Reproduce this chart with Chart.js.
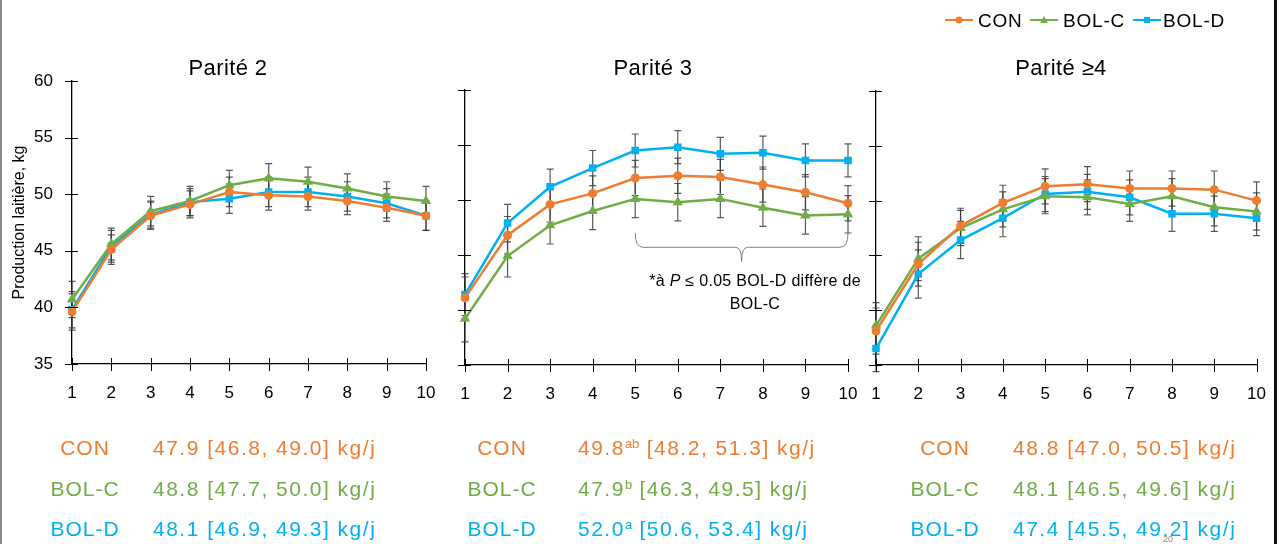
<!DOCTYPE html>
<html>
<head>
<meta charset="utf-8">
<script src="https://cdn.jsdelivr.net/npm/chart.js@4.4.1/dist/chart.umd.min.js"></script>
<style>
  body { margin: 0; background: #fff; }
  #page { position: relative; width: 1285px; height: 544px; overflow: hidden; font-family: "Liberation Sans", Arial, sans-serif; }
  canvas { position: absolute; left: 0; top: 0; }
  .txt { position: absolute; white-space: nowrap; line-height: 1; }
  .title { font-size: 22px; color: #000; transform: translate(-50%, -50%); letter-spacing: 0.4px; }
  .lab { font-size: 21px; transform: translate(-50%, -50%); letter-spacing: 1px; }
  .val { font-size: 21px; transform: translateY(-50%); letter-spacing: 1.5px; }
  .val sup { font-size: 13px; vertical-align: 7px; letter-spacing: 0; }
  .leg { font-size: 19px; color: #000; transform: translateY(-50%); letter-spacing: 0.8px; }
  .con { color: #ED7D31; } .bolc { color: #70AD47; } .bold { color: #00B0F0; }
</style>
</head>
<body>
<div id="page">
  <canvas id="c1" width="1285" height="544"></canvas>
  <canvas id="c2" width="1285" height="544"></canvas>
  <canvas id="c3" width="1285" height="544"></canvas>

  <div class="txt title" style="left:228px;top:68px">Parité 2</div>
  <div class="txt title" style="left:653px;top:68px">Parité 3</div>
  <div class="txt title" style="left:1061px;top:68px">Parité ≥4</div>

  <div class="txt" style="left:755px;top:269px;transform:translateX(-50%);font-size:16px;line-height:23px;text-align:center;color:#000;letter-spacing:0.3px">*à <i>P</i> ≤ 0.05 BOL-D diffère de<br>BOL-C</div>

  <svg style="position:absolute;left:945px;top:12px" width="28" height="16"><line x1="0" y1="8" x2="28" y2="8" stroke="#ED7D31" stroke-width="2"/><circle cx="14" cy="8" r="3.5" fill="#ED7D31"/></svg>
  <div class="txt leg" style="left:978px;top:20px">CON</div>
  <svg style="position:absolute;left:1030px;top:12px" width="28" height="16"><line x1="0" y1="8" x2="28" y2="8" stroke="#70AD47" stroke-width="2"/><polygon points="14,4 18,11 10,11" fill="#70AD47"/></svg>
  <div class="txt leg" style="left:1063px;top:20px">BOL-C</div>
  <svg style="position:absolute;left:1133px;top:12px" width="28" height="16"><line x1="0" y1="8" x2="28" y2="8" stroke="#00B0F0" stroke-width="2"/><rect x="11" y="5" width="6" height="6" fill="#00B0F0"/></svg>
  <div class="txt leg" style="left:1163px;top:20px">BOL-D</div>

  <div class="txt lab con" style="left:85px;top:447px">CON</div>
  <div class="txt val con" style="left:153px;top:447px">47.9 [46.8, 49.0] kg/j</div>
  <div class="txt lab bolc" style="left:85px;top:488px">BOL-C</div>
  <div class="txt val bolc" style="left:153px;top:488px">48.8 [47.7, 50.0] kg/j</div>
  <div class="txt lab bold" style="left:85px;top:528px">BOL-D</div>
  <div class="txt val bold" style="left:153px;top:528px">48.1 [46.9, 49.3] kg/j</div>

  <div class="txt lab con" style="left:502px;top:447px">CON</div>
  <div class="txt val con" style="left:578px;top:447px">49.8<sup>ab</sup> [48.2, 51.3] kg/j</div>
  <div class="txt lab bolc" style="left:502px;top:488px">BOL-C</div>
  <div class="txt val bolc" style="left:578px;top:488px">47.9<sup>b</sup> [46.3, 49.5] kg/j</div>
  <div class="txt lab bold" style="left:502px;top:528px">BOL-D</div>
  <div class="txt val bold" style="left:578px;top:528px">52.0<sup>a</sup> [50.6, 53.4] kg/j</div>

  <div class="txt lab con" style="left:945px;top:447px">CON</div>
  <div class="txt val con" style="left:1013px;top:447px">48.8 [47.0, 50.5] kg/j</div>
  <div class="txt lab bolc" style="left:945px;top:488px">BOL-C</div>
  <div class="txt val bolc" style="left:1013px;top:488px">48.1 [46.5, 49.6] kg/j</div>
  <div class="txt lab bold" style="left:945px;top:528px">BOL-D</div>
  <div class="txt val bold" style="left:1013px;top:528px">47.4 [45.5, 49.2] kg/j</div>

  <div class="txt" style="left:1163px;top:535px;font-size:9px;color:#888">20</div>
  <div style="position:absolute;left:0;top:0;width:2px;height:544px;background:#8a8a8a"></div>
  <div style="position:absolute;left:1274px;top:0;width:3px;height:544px;background:#111"></div>
</div>

<script>
const weeks = ['1', '2', '3', '4', '5', '6', '7', '8', '9', '10'];
const yTicks = [35, 40, 45, 50, 55, 60];

// Parité 2
const con2 = [39.6, 45.1, 48.1, 49.1, 50.2, 49.9, 49.8, 49.4, 48.8, 48.1];
const bolc2 = [40.7, 45.6, 48.5, 49.4, 50.8, 51.4, 51.1, 50.5, 49.8, 49.4];
const bold2 = [39.8, 45.4, 48.2, 49.3, 49.6, 50.2, 50.2, 49.8, 49.2, 48.1];
const conErr2 = [1.6, 1.3, 1.2, 1.2, 1.3, 1.3, 1.2, 1.2, 1.2, 1.3];
const bolcErr2 = [1.6, 1.4, 1.3, 1.3, 1.3, 1.3, 1.3, 1.3, 1.3, 1.3];
const boldErr2 = [1.6, 1.4, 1.2, 1.2, 1.3, 1.3, 1.3, 1.3, 1.3, 1.3];

// Parité 3
const con3 = [41.1, 46.8, 49.6, 50.6, 52.0, 52.2, 52.1, 51.4, 50.7, 49.7];
const bolc3 = [39.2, 44.9, 47.7, 49.0, 50.1, 49.8, 50.1, 49.3, 48.6, 48.7];
const bold3 = [41.4, 47.9, 51.2, 52.9, 54.5, 54.8, 54.2, 54.3, 53.6, 53.6];
const conErr3 = [1.9, 1.7, 1.6, 1.6, 1.6, 1.6, 1.6, 1.6, 1.6, 1.6];
const bolcErr3 = [2.1, 1.9, 1.7, 1.7, 1.7, 1.7, 1.7, 1.7, 1.7, 1.7];
const boldErr3 = [1.9, 1.7, 1.6, 1.6, 1.5, 1.5, 1.5, 1.5, 1.5, 1.5];

// Parité >=4
const con4 = [38.1, 44.2, 47.7, 49.8, 51.3, 51.5, 51.1, 51.1, 51.0, 50.0];
const bolc4 = [38.6, 44.7, 47.5, 49.2, 50.4, 50.3, 49.7, 50.4, 49.4, 49.0];
const bold4 = [36.5, 43.3, 46.4, 48.4, 50.6, 50.8, 50.3, 48.8, 48.8, 48.4];
const conErr4 = [2.1, 2.0, 1.6, 1.6, 1.6, 1.6, 1.6, 1.6, 1.7, 1.7];
const bolcErr4 = [2.1, 2.0, 1.6, 1.6, 1.6, 1.6, 1.6, 1.6, 1.7, 1.7];
const boldErr4 = [2.1, 2.2, 1.7, 1.7, 1.6, 1.6, 1.6, 1.6, 1.6, 1.6];

const CON_COLOR = '#ED7D31';
const BOLC_COLOR = '#70AD47';
const BOLD_COLOR = '#00B0F0';
const FONT = 'Liberation Sans, Arial, sans-serif';

// barres d'erreur, petites graduations croisées et accolade
const extras = {
  id: 'extras',
  beforeDatasetsDraw(chart) {
    const ctx = chart.ctx;
    const x = chart.scales.x, y = chart.scales.y;
    ctx.save();
    ctx.strokeStyle = 'rgba(60,60,60,0.85)';
    ctx.lineWidth = 1.2;
    chart.data.datasets.forEach(ds => {
      ds.data.forEach((v, i) => {
        const px = x.getPixelForValue(i);
        const top = y.getPixelForValue(v + ds.err[i]);
        const bot = y.getPixelForValue(v - ds.err[i]);
        ctx.beginPath();
        ctx.moveTo(px, top); ctx.lineTo(px, bot);
        ctx.moveTo(px - 3.5, top); ctx.lineTo(px + 3.5, top);
        ctx.moveTo(px - 3.5, bot); ctx.lineTo(px + 3.5, bot);
        ctx.stroke();
      });
    });
    ctx.restore();
  },
  afterDraw(chart) {
    const ctx = chart.ctx;
    const x = chart.scales.x, y = chart.scales.y;
    const a = chart.chartArea;
    ctx.save();
    ctx.strokeStyle = '#000';
    ctx.lineWidth = 1;
    ctx.beginPath();
    yTicks.forEach(v => {
      const py = Math.round(y.getPixelForValue(v)) + 0.5;
      ctx.moveTo(a.left - 7, py); ctx.lineTo(a.left + 6, py);
    });
    weeks.forEach((w, i) => {
      const px = Math.round(x.getPixelForValue(i)) + 0.5;
      ctx.moveTo(px, a.bottom - 6); ctx.lineTo(px, a.bottom + 7);
    });
    ctx.stroke();
    if (chart.options.brace) {
      const x0 = x.getPixelForValue(4), x1 = x.getPixelForValue(9);
      const xc = (x0 + x1) / 2;
      const yt = y.getPixelForValue(47.0), ym = y.getPixelForValue(45.7), yb = y.getPixelForValue(44.4);
      ctx.strokeStyle = '#808080';
      ctx.beginPath();
      ctx.moveTo(x0, yt);
      ctx.quadraticCurveTo(x0, ym, x0 + 8, ym);
      ctx.lineTo(xc - 6, ym);
      ctx.quadraticCurveTo(xc, ym, xc, yb);
      ctx.quadraticCurveTo(xc, ym, xc + 6, ym);
      ctx.lineTo(x1 - 8, ym);
      ctx.quadraticCurveTo(x1, ym, x1, yt);
      ctx.stroke();
    }
    ctx.restore();
  }
};

function series(label, data, err, color, style, radius) {
  return {
    label: label,
    data: data,
    err: err,
    borderColor: color,
    backgroundColor: color,
    borderWidth: 2.5,
    pointStyle: style,
    pointRadius: radius,
    pointBorderWidth: 0,
    tension: 0
  };
}

function makeChart(id, area, showLabels, sets, brace) {
  return new Chart(document.getElementById(id), {
    type: 'line',
    data: { labels: weeks, datasets: sets },
    plugins: [extras],
    options: {
      responsive: false,
      animation: false,
      brace: brace,
      layout: {
        padding: { left: area.left - area.yw, right: 1285 - area.right, top: area.top, bottom: 544 - area.bottom - 40 }
      },
      plugins: { legend: { display: false }, tooltip: { enabled: false } },
      scales: {
        x: {
          type: 'category',
          offset: false,
          afterFit: s => { s.height = 40; },
          grid: { drawOnChartArea: false, drawTicks: false },
          border: { color: '#000', width: 1.3 },
          ticks: { color: '#000', font: { family: FONT, size: 17 }, padding: 19, maxRotation: 0, autoSkip: false }
        },
        y: {
          min: 35,
          max: 60,
          afterFit: s => { s.width = area.yw; },
          grid: { drawOnChartArea: false, drawTicks: false },
          border: { color: '#000', width: 1.3 },
          ticks: { display: showLabels, stepSize: 5, color: '#000', font: { family: FONT, size: 17 }, padding: 19 },
          title: {
            display: showLabels,
            text: 'Production laitière, kg',
            color: '#000',
            font: { family: FONT, size: 16 },
            padding: { top: 10, bottom: 0 }
          }
        }
      }
    }
  });
}

makeChart('c1', { left: 72, right: 426, top: 81, bottom: 364, yw: 72 }, true, [
  series('CON', con2, conErr2, CON_COLOR, 'circle', 4.5),
  series('BOL-C', bolc2, bolcErr2, BOLC_COLOR, 'triangle', 6),
  series('BOL-D', bold2, boldErr2, BOLD_COLOR, 'rect', 5.3)
], false);

makeChart('c2', { left: 465, right: 848, top: 90, bottom: 365, yw: 10 }, false, [
  series('CON', con3, conErr3, CON_COLOR, 'circle', 4.5),
  series('BOL-C', bolc3, bolcErr3, BOLC_COLOR, 'triangle', 6),
  series('BOL-D', bold3, boldErr3, BOLD_COLOR, 'rect', 5.3)
], true);

makeChart('c3', { left: 876, right: 1264, top: 91, bottom: 365, yw: 10 }, false, [
  series('CON', con4, conErr4, CON_COLOR, 'circle', 4.5),
  series('BOL-C', bolc4, bolcErr4, BOLC_COLOR, 'triangle', 6),
  series('BOL-D', bold4, boldErr4, BOLD_COLOR, 'rect', 5.3)
], false);
</script>
</body>
</html>
